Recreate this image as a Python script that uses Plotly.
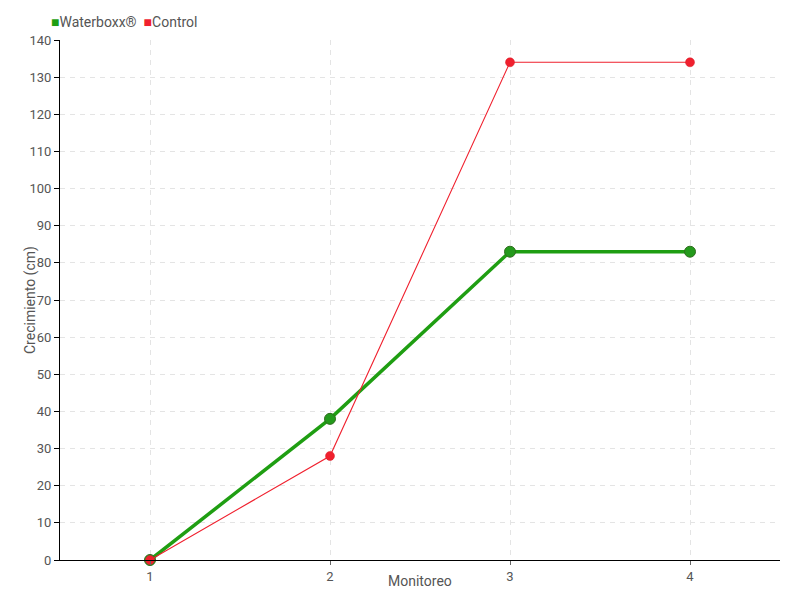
import plotly.graph_objects as go

monitoreo = [1, 2, 3, 4]
waterboxx = [0, 38, 83, 83]
control = [0, 28, 134, 134]
y_ticks = list(range(0, 141, 10))
series_names = ["Waterboxx®", "Control"]
x_title = "Monitoreo"
y_title = "Crecimiento (cm)"

FONT = "Roboto, sans-serif"
GREEN = "#1f9e12"
RED = "#f0202e"
TEXT = "#555555"

# page has an 8px body margin, so the figure is sized/offset to put the plot area
# at x 60..780 and y 40..560 of the 800x600 window
W, H = 792, 592
ML, MR, MT, MB = 52, 20, 32, 40
PW, PH = W - ML - MR, H - MT - MB

fig = go.Figure()
fig.add_trace(go.Scatter(x=monitoreo, y=waterboxx, mode="lines+markers", cliponaxis=False,
                         line=dict(color=GREEN, width=3.5),
                         marker=dict(size=11, color="#249a1c", line=dict(color="#2f6e1e", width=1)),
                         showlegend=False, name=series_names[0]))
fig.add_trace(go.Scatter(x=monitoreo, y=control, mode="lines+markers", cliponaxis=False,
                         line=dict(color=RED, width=1.1),
                         marker=dict(size=9, color=RED, line=dict(color="#d81e2a", width=0.5)),
                         showlegend=False, name=series_names[1]))

# compact legend drawn as text
fig.add_annotation(xref="paper", yref="paper", x=(41 - ML) / PW, y=1 + (MT - 14) / PH,
                   showarrow=False, xanchor="left", yanchor="middle",
                   text=f"<span style='color:{GREEN}'>■</span>{series_names[0]}  "
                        f"<span style='color:{RED}'>■</span>{series_names[1]}",
                   font=dict(family=FONT, size=14, color=TEXT))
# axis titles
fig.add_annotation(xref="paper", yref="paper", x=0.5, y=-(573 - (H - MB)) / PH,
                   showarrow=False, xanchor="center", yanchor="middle",
                   text=x_title, font=dict(family=FONT, size=14, color=TEXT))
fig.add_annotation(xref="paper", yref="paper", x=-(ML - 22) / PW, y=0.5,
                   showarrow=False, xanchor="center", yanchor="middle", textangle=-90,
                   text=y_title, font=dict(family=FONT, size=14, color=TEXT))

fig.update_layout(
    width=W, height=H,
    margin=dict(l=ML, r=MR, t=MT, b=MB, autoexpand=False),
    paper_bgcolor="white", plot_bgcolor="white",
    font=dict(family=FONT, size=14, color=TEXT),
    showlegend=False,
    xaxis=dict(range=[0.5, 4.5], tickvals=monitoreo, ticktext=[str(v) for v in monitoreo],
               showgrid=True, gridcolor="#e4e4e4", griddash="5px,5px", gridwidth=1,
               showline=True, linecolor="#000000", linewidth=1,
               ticks="outside", ticklen=4, tickcolor="#666666", automargin=False,
               zeroline=False, tickfont=dict(size=13)),
    yaxis=dict(range=[0, 140], tickvals=y_ticks,
               showgrid=True, gridcolor="#e4e4e4", griddash="5px,5px", gridwidth=1,
               showline=True, linecolor="#000000", linewidth=1,
               ticks="outside", ticklen=5, tickcolor="#000000", automargin=False,
               zeroline=False, tickfont=dict(size=13)),
)
fig.write_html("out.html")
